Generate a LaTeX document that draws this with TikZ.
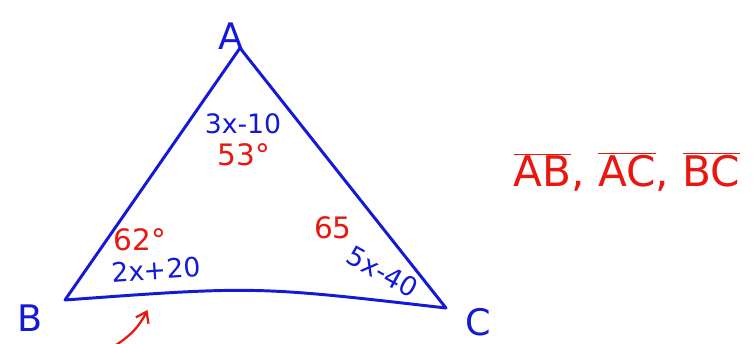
\documentclass[tikz,border=0pt]{standalone}
\usepackage{fontspec}
\setmainfont{DejaVu Sans}
\usetikzlibrary{arrows.meta}
\definecolor{penb}{HTML}{1419D6}
\definecolor{penr}{HTML}{E8170F}
\tikzset{
  side/.style={penb,line width=2.1pt,line join=round,line cap=round},
  vtx/.style={penb,font=\fontsize{26}{26}\selectfont},
  expr/.style={penb,font=\fontsize{19}{19}\selectfont,inner sep=1pt},
  ang/.style={penr,font=\fontsize{21}{21}\selectfont,inner sep=1pt}
}
\begin{document}
\begin{tikzpicture}[x=0.025cm,y=-0.025cm]
\useasboundingbox (0,0) rectangle (755,343);
% corners of the triangle
\coordinate (A) at (240,48);
\coordinate (B) at (65,300);
\coordinate (C) at (446,308);
\draw[side] (B) -- (A) -- (C) .. controls (255,286) .. (B);
% vertex letters
\node[vtx] (la) at (231,36) {A};
\node[vtx] (lb) at (30,318) {B};
\node[vtx] (lc) at (478,322) {C};
% angle at A
\node[expr] (ea) at (243,124) {3x-10};
\node[ang] (da) at (244,155) {53°};
% angle at B
\node[ang] (db) at (140,240) {62°};
\node[expr,rotate=4] (eb) at (156,270) {2x+20};
% angle at C
\node[ang] (dc) at (333,228) {65};
\node[expr,rotate=-29] (ec) at (383,272) {5x-40};
% arrow below side BC
\coordinate (tail) at (116,345);
\node[inner sep=0pt] (tip) at (148,309) {};
\draw[penr,line width=1.6pt,-{Straight Barb[length=7pt,width=10pt]}] (tail) to[bend right=15] (tip);
% names of the sides
\node[penr,font=\fontsize{30}{30}\selectfont] (sides) at (627,172)
  {$\overline{\mbox{AB}}$, $\overline{\mbox{AC}}$, $\overline{\mbox{BC}}$};
\end{tikzpicture}
\end{document}
